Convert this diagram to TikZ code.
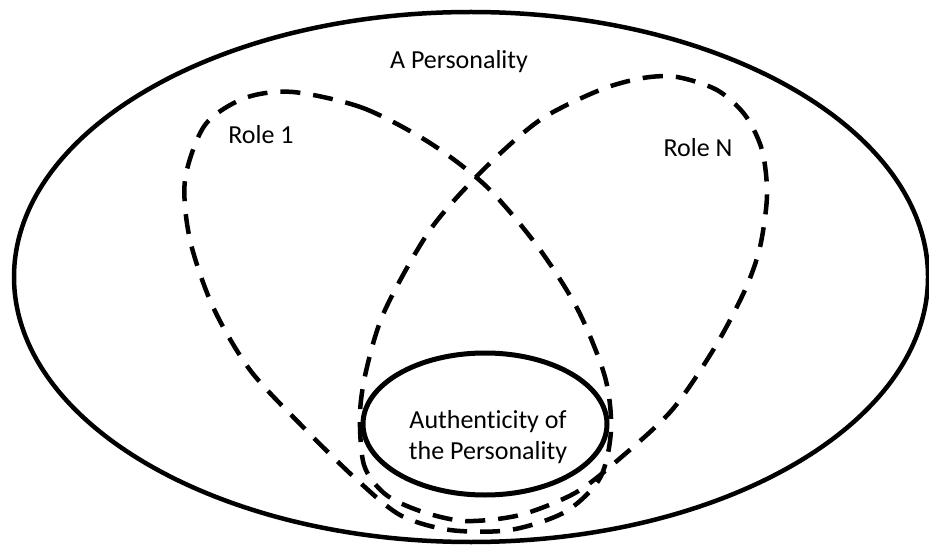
\documentclass[tikz,border=0pt]{standalone}
\usepackage{fontspec}
\setmainfont{Carlito}[Ligatures=NoCommon]
\usetikzlibrary{shapes.geometric}

\begin{document}
\begin{tikzpicture}[x=1pt,y=-1pt,
outline/.style={draw,ellipse,line width=4.5pt,inner sep=0pt},
rolepath/.style={line width=4.5pt,dash pattern=on 20pt off 13pt},
txt/.style={font=\fontsize{26}{31}\selectfont,align=center,inner sep=0pt}]
\useasboundingbox (0,0) rectangle (929,548);
% the personality as a whole
\node (persona) [outline,minimum width=914pt,minimum height=530pt] at (471,277) {};
% the roles
\draw [rolepath] plot [smooth cycle] coordinates {
    (293,92) (363,108) (430,143) (487,187) (538,247) (578,310) (605,377)
    (611,430) (600,478) (565,512) (510,530) (450,530) (400,515) (355,478)
    (303,427) (250,370) (213,307) (190,240) (185,180) (205,125) (245,98)};
\draw [rolepath] plot [smooth cycle] coordinates {
    (600,90) (643,78) (677,77) (717,90) (745,115) (762,150) (767,195)
    (760,247) (745,290) (715,347) (672,410) (618,460) (575,493) (520,515)
    (465,521) (420,511) (385,494) (364,465) (360,413) (367,367) (385,310)
    (430,230) (483,170) (540,120)};
% authenticity in the middle
\node (auth) [outline,line width=5pt,minimum width=244pt,minimum height=142pt] at (485,424) {};
\node (persolabel) [txt] at (459,62) {A Personality};
\node (role1label) [txt] at (261,135) {Role 1};
\node (rolenlabel) [txt] at (698,148) {Role N};
\node (authlabel) [txt] at (488,437) {Authenticity of\\the Personality};
\end{tikzpicture}
\end{document}
